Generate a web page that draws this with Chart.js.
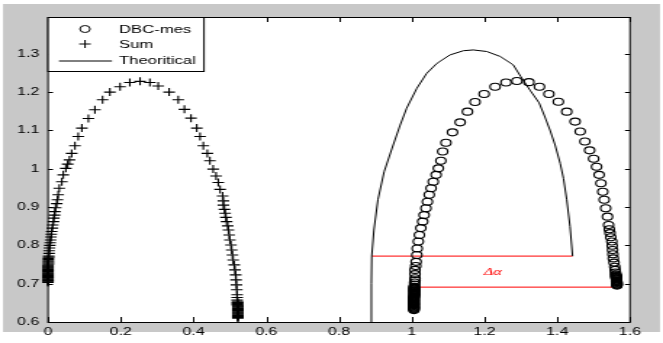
<!DOCTYPE html>
<html>
<head>
<meta charset="utf-8">
<script src="https://cdn.jsdelivr.net/npm/chart.js@4/dist/chart.umd.min.js"></script>
<style>
  html, body { margin: 0; padding: 0; background: #fff; overflow: hidden; }
  /* the original screenshot is stretched sideways, so draw narrow and stretch */
  #wrap { width: 457px; height: 343px; transform: scaleX(1.4508); transform-origin: 0 0; }
</style>
</head>
<body>
<div id="wrap"><canvas id="chart"></canvas></div>
<script>
// 数据
const xTicks = [0, 0.2, 0.4, 0.6, 0.8, 1, 1.2, 1.4, 1.6];
const yTicks = [0.6, 0.7, 0.8, 0.9, 1, 1.1, 1.2, 1.3];
const legendLabels = ['DBC-mes', 'Sum', 'Theoritical'];

const sumLeft = [
  [0.000,0.703],[0.000,0.705],[0.000,0.707],[0.000,0.708],[0.000,0.710],[0.000,0.712],
  [0.000,0.714],[0.000,0.716],[0.000,0.717],[0.000,0.719],[0.000,0.721],[0.000,0.723],
  [0.000,0.725],[0.000,0.726],[0.000,0.728],[0.000,0.730],[0.000,0.732],[0.000,0.734],
  [0.000,0.735],[0.000,0.737],[0.000,0.739],[0.000,0.741],[0.000,0.743],[0.000,0.744],
  [0.000,0.746],[0.000,0.748],
  [0.001,0.751],[0.001,0.754],[0.001,0.757],[0.001,0.760],[0.001,0.763],[0.001,0.766],
  [0.002,0.769],[0.002,0.772],[0.003,0.779],[0.003,0.786],
  [0.004,0.793],[0.005,0.800],[0.006,0.807],[0.007,0.814],[0.008,0.822],[0.009,0.829],
  [0.010,0.836],[0.012,0.845],[0.013,0.853],[0.015,0.862],[0.016,0.871],[0.018,0.879],
  [0.019,0.888],[0.021,0.898],[0.024,0.909],[0.026,0.919],[0.028,0.932],[0.031,0.949],
  [0.038,0.966],[0.042,0.984],[0.049,1.001],[0.054,1.012],[0.059,1.023],[0.065,1.040],
  [0.074,1.060],[0.083,1.084],[0.093,1.106],[0.111,1.131],[0.129,1.154],[0.150,1.180],
  [0.170,1.200],[0.198,1.214],[0.225,1.225],[0.253,1.228]
];
const sumRight = [
  [0.280,1.225],[0.303,1.216],[0.333,1.200],[0.358,1.180],[0.375,1.155],[0.393,1.132],
  [0.409,1.106],[0.418,1.084],[0.427,1.060],[0.438,1.040],[0.445,1.021],[0.454,0.999],
  [0.462,0.981],[0.468,0.964],[0.473,0.946],[0.480,0.929],[0.482,0.916],[0.482,0.905],
  [0.485,0.894],[0.487,0.884],[0.489,0.873],[0.491,0.862],[0.494,0.851],[0.496,0.840],
  [0.498,0.827],[0.500,0.814],[0.503,0.801],[0.505,0.788],[0.507,0.775],[0.509,0.762],
  [0.512,0.749],[0.514,0.736],[0.516,0.723],[0.517,0.710],[0.518,0.697],[0.519,0.684],
  [0.520,0.671],[0.520,0.664],[0.520,0.657],
  [0.521,0.653],[0.521,0.651],[0.521,0.650],[0.521,0.648],[0.521,0.646],[0.521,0.644],
  [0.522,0.642],[0.522,0.641],[0.522,0.639],[0.522,0.637],[0.522,0.635],[0.522,0.633],
  [0.522,0.632],[0.522,0.630],[0.522,0.628],[0.522,0.626],[0.522,0.624],[0.522,0.623],
  [0.522,0.621],[0.522,0.619],[0.522,0.617],[0.522,0.615],[0.522,0.614],[0.522,0.612],
  [0.522,0.610]
];

const dbcLeft = [
  [1.006,0.631],[1.006,0.633],[1.006,0.635],[1.006,0.637],[1.006,0.638],[1.006,0.640],
  [1.006,0.642],[1.006,0.644],[1.006,0.646],[1.006,0.647],[1.006,0.649],[1.006,0.651],
  [1.006,0.653],[1.006,0.655],[1.006,0.656],[1.006,0.658],[1.006,0.660],[1.006,0.662],
  [1.006,0.664],[1.006,0.665],[1.007,0.667],[1.007,0.669],[1.007,0.671],[1.007,0.673],
  [1.007,0.674],[1.007,0.676],[1.007,0.678],[1.007,0.680],[1.007,0.682],[1.007,0.683],
  [1.007,0.685],[1.007,0.687],[1.007,0.689],[1.007,0.691],[1.007,0.692],
  [1.008,0.698],[1.008,0.703],[1.009,0.709],[1.009,0.714],[1.009,0.725],[1.009,0.736],
  [1.011,0.746],[1.012,0.757],[1.014,0.775],[1.015,0.792],[1.018,0.810],[1.021,0.827],
  [1.025,0.845],[1.030,0.862],[1.034,0.879],[1.039,0.897],[1.043,0.914],[1.048,0.932],
  [1.053,0.949],[1.059,0.966],[1.067,0.984],[1.073,1.001],[1.080,1.021],[1.085,1.045],
  [1.094,1.068],[1.112,1.095],[1.133,1.121],[1.153,1.149],[1.174,1.174],[1.199,1.195],
  [1.229,1.214],[1.259,1.225],[1.289,1.229]
];
const dbcRight = [
  [1.322,1.226],[1.351,1.214],[1.377,1.195],[1.403,1.175],[1.426,1.149],[1.449,1.123],
  [1.463,1.097],[1.476,1.071],[1.489,1.048],[1.500,1.026],[1.508,1.005],[1.515,0.984],
  [1.520,0.962],[1.525,0.940],[1.529,0.919],[1.533,0.897],[1.538,0.875],[1.541,0.853],
  [1.543,0.842],[1.545,0.832],[1.547,0.821],[1.550,0.810],[1.551,0.799],[1.552,0.788],
  [1.553,0.777],[1.554,0.766],[1.556,0.755],[1.558,0.744],[1.559,0.736],[1.560,0.729],
  [1.561,0.724],[1.561,0.722],[1.562,0.720],[1.562,0.718],[1.562,0.716],[1.562,0.715],
  [1.563,0.713],[1.563,0.711],[1.563,0.709],[1.563,0.707],[1.563,0.706],[1.564,0.704],
  [1.564,0.702],[1.564,0.700],[1.564,0.698],[1.564,0.697],[1.564,0.695]
];

const theory = [
  [0.889,0.600],[0.889,0.700],[0.890,0.772],[0.896,0.840],[0.907,0.919],[0.924,0.992],
  [0.946,1.054],[0.968,1.114],[0.986,1.158],[1.014,1.210],[1.041,1.249],[1.069,1.275],
  [1.105,1.297],[1.142,1.308],[1.169,1.310],[1.206,1.306],[1.243,1.293],[1.279,1.271],
  [1.300,1.240],[1.325,1.205],[1.350,1.172],[1.366,1.135],[1.380,1.101],[1.394,1.062],
  [1.408,1.014],[1.417,0.975],[1.426,0.919],[1.435,0.849],[1.442,0.772]
];

const deltaUpper = [[0.890,0.772],[1.442,0.772]];
const deltaLower = [[1.010,0.691],[1.553,0.691]];
const deltaLabel = { text: 'Δα', x: 1.223, y: 0.731 };

const SX = 663 / 457;   // horizontal stretch of the screenshot
const FONT = '"Liberation Sans", Arial, sans-serif';

function pts(list) {
  return list.map(p => ({ x: p[0], y: p[1] }));
}

// 灰色背景 + 白色绘图区
const backgroundPlugin = {
  id: 'matlabBg',
  beforeDraw(c) {
    const ctx = c.ctx, a = c.chartArea;
    ctx.save();
    ctx.fillStyle = '#ffffff';
    ctx.fillRect(0, 0, c.width, c.height);
    ctx.fillStyle = '#c8c8c8';
    ctx.fillRect(3 / SX, 4, 657 / SX, 328);
    ctx.fillStyle = '#ffffff';
    ctx.fillRect(a.left, a.top, a.right - a.left, a.bottom - a.top);
    ctx.restore();
  }
};

// 坐标框、内向刻度、图例、Δα 标注
const axesPlugin = {
  id: 'matlabAxes',
  afterDraw(c) {
    const ctx = c.ctx, a = c.chartArea;
    const xs = c.scales.x, ys = c.scales.y;
    ctx.save();
    ctx.strokeStyle = '#000';
    ctx.lineWidth = 1;

    // Δα
    ctx.fillStyle = '#ff0000';
    ctx.font = 'italic 11px "Liberation Serif", serif';
    ctx.textAlign = 'center';
    ctx.textBaseline = 'middle';
    ctx.fillText(deltaLabel.text, xs.getPixelForValue(deltaLabel.x), ys.getPixelForValue(deltaLabel.y));

    ctx.beginPath();
    xTicks.forEach(v => {
      const px = Math.round(xs.getPixelForValue(v)) + 0.5;
      ctx.moveTo(px, a.bottom); ctx.lineTo(px, a.bottom - 5);
      ctx.moveTo(px, a.top); ctx.lineTo(px, a.top + 5);
    });
    yTicks.forEach(v => {
      const py = Math.round(ys.getPixelForValue(v)) + 0.5;
      ctx.moveTo(a.left, py); ctx.lineTo(a.left + 5 / SX, py);
      ctx.moveTo(a.right, py); ctx.lineTo(a.right - 5 / SX, py);
    });
    ctx.stroke();
    ctx.strokeRect(a.left, Math.round(a.top) + 0.5, a.right - a.left, Math.round(a.bottom - a.top));

    // legend box
    const lx = a.left, ly = a.top, lw = 156 / SX, lh = 54;
    ctx.fillStyle = '#fff';
    ctx.fillRect(lx, ly, lw, lh);
    ctx.strokeRect(lx, Math.round(ly) + 0.5, lw, lh);

    const symX = lx + 37 / SX;
    const rows = [ly + 12, ly + 27, ly + 43.5];
    ctx.beginPath();
    ctx.arc(symX, rows[0], 3.5, 0, Math.PI * 2);
    ctx.stroke();
    ctx.beginPath();
    ctx.moveTo(symX - 4, rows[1]); ctx.lineTo(symX + 4, rows[1]);
    ctx.moveTo(symX, rows[1] - 4); ctx.lineTo(symX, rows[1] + 4);
    ctx.moveTo(lx + 11 / SX, rows[2] + 0.5); ctx.lineTo(lx + 64 / SX, rows[2] + 0.5);
    ctx.stroke();

    ctx.fillStyle = '#000';
    ctx.font = '11.5px ' + FONT;
    ctx.textAlign = 'left';
    legendLabels.forEach((t, i) => {
      ctx.fillText(t, lx + 71 / SX, rows[i] + 0.5);
    });
    ctx.restore();
  }
};

const ctx = document.getElementById('chart').getContext('2d');
const chart = new Chart(ctx, {
  type: 'scatter',
  data: {
    datasets: [
      {
        label: legendLabels[0],
        data: pts(dbcLeft.concat(dbcRight)),
        pointStyle: 'circle',
        pointRadius: 3.5,
        borderWidth: 1.1,
        borderColor: '#000',
        backgroundColor: 'rgba(0,0,0,0)',
        showLine: false,
        clip: false
      },
      {
        label: legendLabels[1],
        data: pts(sumLeft.concat(sumRight)),
        pointStyle: 'cross',
        pointRadius: 4,
        borderWidth: 1.1,
        borderColor: '#000',
        showLine: false,
        clip: false
      },
      {
        label: legendLabels[2],
        data: pts(theory),
        showLine: true,
        pointRadius: 0,
        borderWidth: 1,
        borderColor: '#000',
        tension: 0
      },
      {
        label: 'upper',
        data: pts(deltaUpper),
        showLine: true,
        pointRadius: 0,
        borderWidth: 1,
        borderColor: '#ff0000'
      },
      {
        label: 'lower',
        data: pts(deltaLower),
        showLine: true,
        pointRadius: 0,
        borderWidth: 1,
        borderColor: '#ff0000'
      }
    ]
  },
  options: {
    responsive: true,
    maintainAspectRatio: false,
    animation: false,
    events: [],
    layout: { padding: { left: 0, top: 17, right: 457 - 630 / SX, bottom: 0 } },
    plugins: {
      legend: { display: false },
      tooltip: { enabled: false }
    },
    scales: {
      x: {
        type: 'linear',
        min: 0,
        max: 1.6,
        grid: { display: false, drawTicks: false },
        border: { display: false },
        afterFit(s) { s.height = 343 - 322; },
        afterBuildTicks(s) { s.ticks = xTicks.map(v => ({ value: v })); },
        ticks: {
          padding: 3,
          color: '#000',
          font: { family: FONT, size: 11 },
          maxRotation: 0,
          callback: v => String(Math.round(v * 10) / 10)
        }
      },
      y: {
        type: 'linear',
        min: 0.6,
        max: 1.396,
        grid: { display: false, drawTicks: false },
        border: { display: false },
        afterFit(s) { s.width = 48 / SX; },
        afterBuildTicks(s) { s.ticks = yTicks.map(v => ({ value: v })); },
        ticks: {
          padding: 6,
          color: '#000',
          font: { family: FONT, size: 11 },
          callback: v => String(Math.round(v * 10) / 10)
        }
      }
    }
  },
  plugins: [backgroundPlugin, axesPlugin]
});
</script>
</body>
</html>
